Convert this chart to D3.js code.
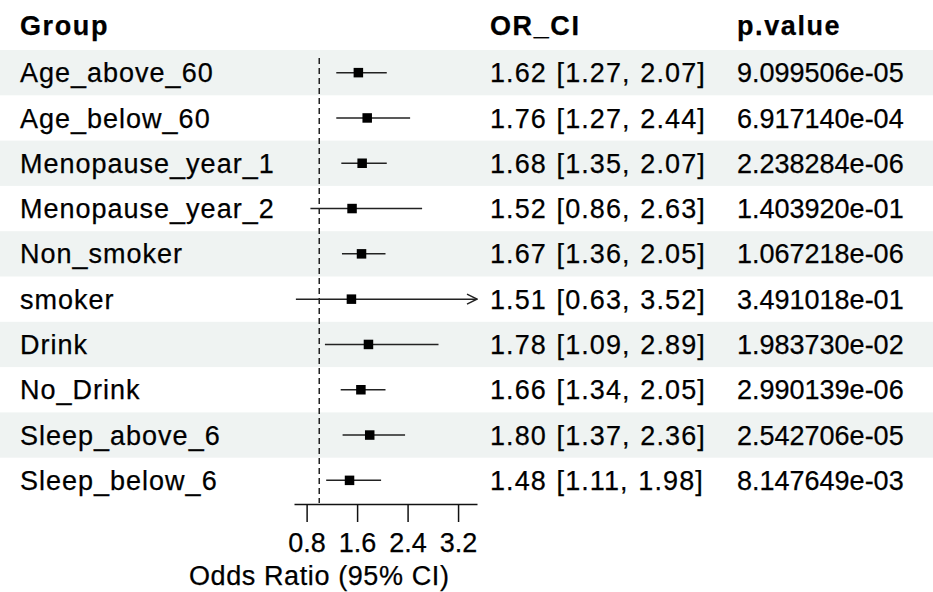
<!DOCTYPE html>
<meta charset="utf-8">
<script src="https://d3js.org/d3.v7.min.js"></script>
<style>
  body { margin: 0; background: #fff; }
  text { font-family: "Liberation Sans", Arial, sans-serif; fill: #000; stroke: #000; stroke-width: 0.25px; }
</style>
<div id="my_dataviz"></div>
<script>

    // data
    var groups = ["Age_above_60", "Age_below_60", "Menopause_year_1", "Menopause_year_2",
                  "Non_smoker", "smoker", "Drink", "No_Drink", "Sleep_above_6", "Sleep_below_6"]
    var est   = [1.62, 1.76, 1.68, 1.52, 1.67, 1.51, 1.78, 1.66, 1.80, 1.48]
    var lower = [1.27, 1.27, 1.35, 0.86, 1.36, 0.63, 1.09, 1.34, 1.37, 1.11]
    var upper = [2.07, 2.44, 2.07, 2.63, 2.05, 3.52, 2.89, 2.05, 2.36, 1.98]
    var pvals = ["9.099506e-05", "6.917140e-04", "2.238284e-06", "1.403920e-01", "1.067218e-06",
                 "3.491018e-01", "1.983730e-02", "2.990139e-06", "2.542706e-05", "8.147649e-03"]
    var headers = ["Group", "OR_CI", "p.value"]
    var xTicks = [0.8, 1.6, 2.4, 3.2]
    var refValue = 1
    var xLimits = [0.6, 3.5]

    var W = 933, H = 592
    var fontSize = 27
    var colGroup = 20, colOR = 490, colP = 737

    var svg = d3.select("#my_dataviz")
      .append("svg")
        .attr("width", W)
        .attr("height", H)

    // scales
    var x = d3.scaleLinear()
      .domain(xLimits)
      .range([294, 477])

    var y = d3.scaleBand()
      .domain(groups)
      .range([50, 503])
      .padding(0)

    var rows = groups.map(function(g, i) {
      return {group: g, est: est[i], lo: lower[i], hi: upper[i], p: pvals[i], i: i}
    })

    // striped row backgrounds
    svg.selectAll(".stripe")
      .data(rows.filter(function(d) { return d.i % 2 === 0 }))
      .enter()
      .append("rect")
        .attr("x", 0)
        .attr("y", function(d) { return y(d.group) })
        .attr("width", W)
        .attr("height", y.bandwidth())
        .style("fill", "#eff3f2")

    // header
    svg.selectAll(".header")
      .data(headers)
      .enter()
      .append("text")
        .attr("x", function(d, i) { return [colGroup, colOR, colP][i] })
        .attr("y", 35)
        .style("font-size", fontSize + "px")
        .style("font-weight", "bold")
        .style("letter-spacing", "1.6px")
        .text(function(d) { return d })

    // table text
    function rowY(d) { return y(d.group) + y.bandwidth() / 2 + fontSize * 0.355 }

    svg.selectAll(".lab")
      .data(rows)
      .enter()
      .append("text")
        .attr("x", colGroup)
        .attr("y", rowY)
        .style("font-size", fontSize + "px")
        .style("letter-spacing", "1px")
        .text(function(d) { return d.group })

    svg.selectAll(".orci")
      .data(rows)
      .enter()
      .append("text")
        .attr("x", colOR)
        .attr("y", rowY)
        .style("font-size", fontSize + "px")
        .style("letter-spacing", "1.1px")
        .style("word-spacing", "1px")
        .text(function(d) {
          return d.est.toFixed(2) + " [" + d.lo.toFixed(2) + ", " + d.hi.toFixed(2) + "]"
        })

    svg.selectAll(".pval")
      .data(rows)
      .enter()
      .append("text")
        .attr("x", colP)
        .attr("y", rowY)
        .style("font-size", fontSize + "px")
        .text(function(d) { return d.p })

    // reference line
    svg.append("line")
      .attr("x1", x(refValue))
      .attr("x2", x(refValue))
      .attr("y1", 58)
      .attr("y2", 503)
      .style("stroke", "#222")
      .style("stroke-width", 1.5)
      .style("stroke-dasharray", "6,4")

    // arrow marker for CIs beyond the axis
    svg.append("defs").append("marker")
      .attr("id", "arrow")
      .attr("viewBox", "0 0 12 12")
      .attr("refX", 11)
      .attr("refY", 6)
      .attr("markerWidth", 12)
      .attr("markerHeight", 12)
      .attr("markerUnits", "userSpaceOnUse")
      .attr("orient", "auto")
      .append("path")
        .attr("d", "M1,1 L11,6 L1,11")
        .style("fill", "none")
        .style("stroke", "#222")
        .style("stroke-width", 1.5)

    var clampX = function(v) { return x(Math.max(xLimits[0], Math.min(xLimits[1], v))) }

    svg.selectAll(".ci")
      .data(rows)
      .enter()
      .append("line")
        .attr("x1", function(d) { return clampX(d.lo) })
        .attr("x2", function(d) { return clampX(d.hi) })
        .attr("y1", function(d) { return y(d.group) + y.bandwidth() / 2 })
        .attr("y2", function(d) { return y(d.group) + y.bandwidth() / 2 })
        .attr("marker-end", function(d) { return d.hi > xLimits[1] ? "url(#arrow)" : null })
        .style("stroke", "#222")
        .style("stroke-width", 1.5)

    var box = 9.5
    svg.selectAll(".pt")
      .data(rows)
      .enter()
      .append("rect")
        .attr("x", function(d) { return x(d.est) - box / 2 })
        .attr("y", function(d) { return y(d.group) + y.bandwidth() / 2 - box / 2 })
        .attr("width", box)
        .attr("height", box)
        .style("fill", "#000")

    // x axis
    var axis = svg.append("g")
      .attr("transform", "translate(0,504)")
      .call(d3.axisBottom(x)
        .tickValues(xTicks)
        .tickSize(18)
        .tickSizeOuter(0)
        .tickPadding(11)
        .tickFormat(d3.format(".1f")))

    axis.selectAll("path, line")
      .style("stroke", "#111")
      .style("stroke-width", 1.5)
    axis.selectAll("text")
      .style("font-size", fontSize + "px")
      .style("font-family", "'Liberation Sans', Arial, sans-serif")
      .style("fill", "#000")

    svg.append("text")
      .attr("x", x(refValue))
      .attr("y", 585)
      .attr("text-anchor", "middle")
      .style("font-size", fontSize + "px")
      .style("letter-spacing", "0.6px")
      .text("Odds Ratio (95% CI)")

</script>
